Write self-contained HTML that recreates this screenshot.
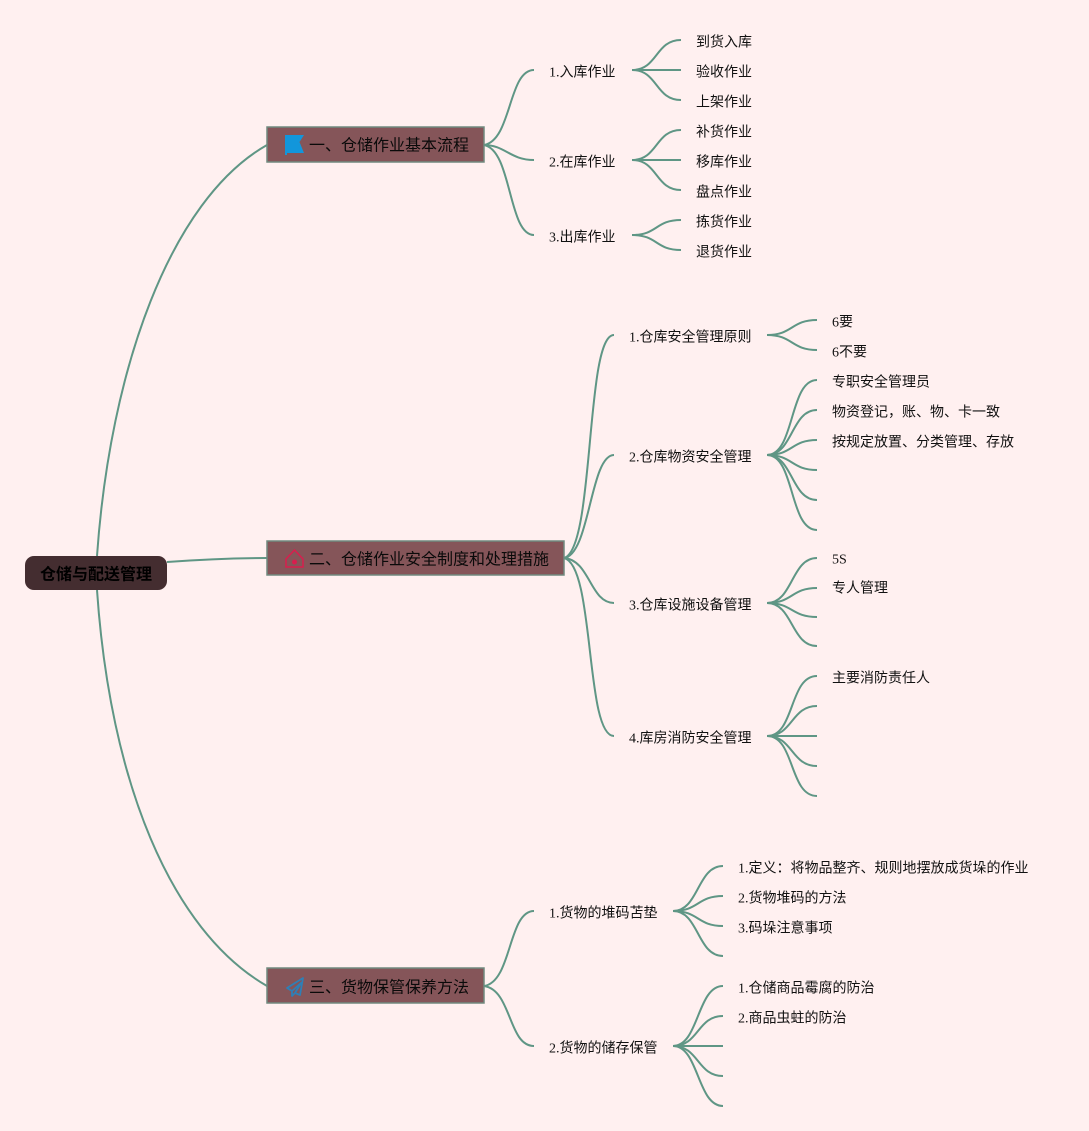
<!DOCTYPE html>
<html><head><meta charset="utf-8"><style>
html,body{margin:0;padding:0;background:#fff0f0}
svg{display:block}
text{font-family:"Liberation Serif","WenQuanYi Zen Hei","Noto Sans CJK SC",serif;font-size:14px;fill:#111;dominant-baseline:central}
.m{font-size:16px;fill:#0a0a0a}
.r{font-size:16px;font-weight:bold;fill:#000}
.l path{fill:none;stroke:#5f9685;stroke-width:2;stroke-linecap:butt}
</style></head><body>
<svg width="1089" height="1131" viewBox="0 0 1089 1131" xmlns="http://www.w3.org/2000/svg">
<rect width="1089" height="1131" fill="#fff0f0"/>
<g class="l">
<path d="M97 556C110 370 170 200 267 145"/>
<path d="M97 590C110 780 170 930 267 986"/>
<path d="M167 562Q220 558 267 558"/>
<path d="M484 145C512 140 508 70 534 70"/>
<path d="M484 145C505 145 510 160 534 160"/>
<path d="M484 145C512 150 508 235 534 235"/>
<path d="M632 70C658 70 655 40 681 40"/>
<path d="M632 70H681"/>
<path d="M632 70C658 70 655 100 681 100"/>
<path d="M632 160C658 160 655 130 681 130"/>
<path d="M632 160H681"/>
<path d="M632 160C658 160 655 190 681 190"/>
<path d="M632 235C658 235 655 220 681 220"/>
<path d="M632 235C658 235 655 250 681 250"/>
<path d="M564 558C595 550 585 335 614 335"/>
<path d="M564 558C590 555 590 455 614 455"/>
<path d="M564 558C590 560 590 603 614 603"/>
<path d="M564 558C595 565 585 736 614 736"/>
<path d="M767 335C793 335 791 320 817 320"/>
<path d="M767 335C793 335 791 350 817 350"/>
<path d="M767 455C795 455 789 380 817 380"/>
<path d="M767 455C793 455 791 410 817 410"/>
<path d="M767 455C793 455 791 440 817 440"/>
<path d="M767 455C793 455 791 470 817 470"/>
<path d="M767 455C793 455 791 500 817 500"/>
<path d="M767 455C795 455 789 530 817 530"/>
<path d="M767 603C793 603 791 558 817 558"/>
<path d="M767 603C793 603 791 588 817 588"/>
<path d="M767 603C793 603 791 617 817 617"/>
<path d="M767 603C793 603 791 646 817 646"/>
<path d="M767 736C795 736 789 676 817 676"/>
<path d="M767 736C793 736 791 706 817 706"/>
<path d="M767 736H817"/>
<path d="M767 736C793 736 791 766 817 766"/>
<path d="M767 736C795 736 789 796 817 796"/>
<path d="M484 986C512 982 508 911 534 911"/>
<path d="M484 986C512 990 508 1046 534 1046"/>
<path d="M673 911C699 911 697 866 723 866"/>
<path d="M673 911C699 911 697 896 723 896"/>
<path d="M673 911C699 911 697 926 723 926"/>
<path d="M673 911C699 911 697 956 723 956"/>
<path d="M673 1046C699 1046 697 986 723 986"/>
<path d="M673 1046C699 1046 697 1016 723 1016"/>
<path d="M673 1046H723"/>
<path d="M673 1046C699 1046 697 1076 723 1076"/>
<path d="M673 1046C699 1046 697 1106 723 1106"/>
</g>
<rect x="25" y="556" width="142" height="34" rx="9" fill="#442d30"/>
<text x="40" y="575" class="r">仓储与配送管理</text>
<rect x="267" y="127" width="217" height="35" fill="#855559" stroke="#70897f" stroke-width="1.5"/>
<rect x="267" y="541" width="297" height="34" fill="#855559" stroke="#70897f" stroke-width="1.5"/>
<rect x="267" y="968" width="217" height="35" fill="#855559" stroke="#70897f" stroke-width="1.5"/>
<path d="M285 135H304L299.500 142L304 153H287V155H285Z" fill="#1296db"/>
<path d="M286 559L294.500 550L303 559V567H286Z" fill="none" stroke="#d81e4e" stroke-width="1.500"/>
<circle cx="294.500" cy="562" r="2.500" fill="#d81e4e"/>
<path d="M303 978L287 988L292 991L301 983L295 993L300 995Z M292 991V996L295 993" fill="none" stroke="#2f7fb5" stroke-width="1.800" stroke-linejoin="round"/>
<text x="309" y="146" class="m">一、仓储作业基本流程</text>
<text x="309" y="560" class="m">二、仓储作业安全制度和处理措施</text>
<text x="309" y="988" class="m">三、货物保管保养方法</text>
<text x="549" y="73">1.入库作业</text>
<text x="549" y="163">2.在库作业</text>
<text x="549" y="238">3.出库作业</text>
<text x="696" y="43">到货入库</text>
<text x="696" y="73">验收作业</text>
<text x="696" y="103">上架作业</text>
<text x="696" y="133">补货作业</text>
<text x="696" y="163">移库作业</text>
<text x="696" y="193">盘点作业</text>
<text x="696" y="223">拣货作业</text>
<text x="696" y="253">退货作业</text>
<text x="629" y="338">1.仓库安全管理原则</text>
<text x="629" y="458">2.仓库物资安全管理</text>
<text x="629" y="606">3.仓库设施设备管理</text>
<text x="629" y="739">4.库房消防安全管理</text>
<text x="832" y="323">6要</text>
<text x="832" y="353">6不要</text>
<text x="832" y="383">专职安全管理员</text>
<text x="832" y="413">物资登记，账、物、卡一致</text>
<text x="832" y="443">按规定放置、分类管理、存放</text>
<text x="832" y="560">5S</text>
<text x="832" y="589">专人管理</text>
<text x="832" y="679">主要消防责任人</text>
<text x="549" y="914">1.货物的堆码苫垫</text>
<text x="549" y="1049">2.货物的储存保管</text>
<text x="738" y="869">1.定义：将物品整齐、规则地摆放成货垛的作业</text>
<text x="738" y="899">2.货物堆码的方法</text>
<text x="738" y="929">3.码垛注意事项</text>
<text x="738" y="989">1.仓储商品霉腐的防治</text>
<text x="738" y="1019">2.商品虫蛀的防治</text>
</svg>
</body></html>
